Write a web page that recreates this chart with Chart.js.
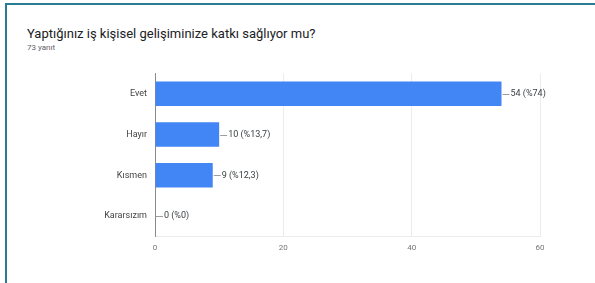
<!DOCTYPE html>
<html>
<head>
<meta charset="utf-8">
<script src="https://cdn.jsdelivr.net/npm/chart.js@4/dist/chart.umd.min.js"></script>
<style>
  html, body { margin: 0; padding: 0; background: #fff; }
  body { width: 595px; height: 283px; position: relative; overflow: hidden; font-family: Roboto, Arial, sans-serif; }
  .frame { position: absolute; left: 5px; top: 3px; right: 0; bottom: 0; border-top: 2px solid #2b7c93; border-left: 2px solid #2b7c93; }
  .title { position: absolute; left: 27px; top: 26px; font-size: 13px; color: #202124; }
  .sub { position: absolute; left: 27px; top: 43px; font-size: 8px; color: #5f6368; }
  .wrap { position: absolute; left: 0; top: 60px; width: 595px; height: 212px; }
</style>
</head>
<body>
<div class="frame"></div>
<div class="title">Yaptığınız iş kişisel gelişiminize katkı sağlıyor mu?</div>
<div class="sub">73 yanıt</div>
<div class="wrap"><canvas id="answersChart"></canvas></div>
<script>
const categories = ['Evet', 'Hayır', 'Kısmen', 'Kararsızım'];
const counts = [54, 10, 9, 0];
const percentLabels = ['%74', '%13,7', '%12,3', '%0'];
const xTicks = [0, 20, 40, 60];

// leader line + "n (%p)" after each bar
const valueLabels = {
  id: 'valueLabels',
  afterDatasetsDraw (chart) {
    const ctx = chart.ctx;
    const meta = chart.getDatasetMeta(0);
    ctx.save();
    ctx.font = '9px Roboto, Arial, sans-serif';
    ctx.textBaseline = 'middle';
    meta.data.forEach((bar, i) => {
      const x = bar.x;
      const y = bar.y;
      ctx.strokeStyle = '#9e9e9e';
      ctx.lineWidth = 1;
      ctx.beginPath();
      ctx.moveTo(x + 1, Math.round(y) + 0.5);
      ctx.lineTo(x + 8, Math.round(y) + 0.5);
      ctx.stroke();
      ctx.fillStyle = '#3c4043';
      ctx.fillText(counts[i] + ' (' + percentLabels[i] + ')', x + 9, y);
    });
    ctx.restore();
  }
};

new Chart(document.getElementById('answersChart').getContext('2d'), {
  type: 'bar',
  data: {
    labels: categories,
    datasets: [{
      data: counts,
      backgroundColor: '#4285f4',
      borderWidth: 0,
      barPercentage: 0.6,
      categoryPercentage: 1
    }]
  },
  options: {
    indexAxis: 'y',
    responsive: true,
    maintainAspectRatio: false,
    animation: false,
    layout: { padding: { top: 10, right: 55, bottom: 12, left: 0 } },
    plugins: { legend: { display: false }, tooltip: { enabled: false } },
    scales: {
      x: {
        min: 0,
        max: 60,
        afterBuildTicks (scale) { scale.ticks = xTicks.map(v => ({ value: v })); },
        grid: { color: '#ececec', drawTicks: false },
        border: { display: true, color: '#ececec' },
        ticks: { color: '#757575', font: { size: 8, family: 'Roboto, Arial, sans-serif' }, padding: 7 }
      },
      y: {
        afterFit (scale) { scale.width = 155; },
        grid: { display: false, drawTicks: false },
        border: { display: true, color: '#8a8a8a' },
        ticks: { color: '#444', font: { size: 9, family: 'Roboto, Arial, sans-serif' }, padding: 8 }
      }
    }
  },
  plugins: [valueLabels]
});
</script>
</body>
</html>
